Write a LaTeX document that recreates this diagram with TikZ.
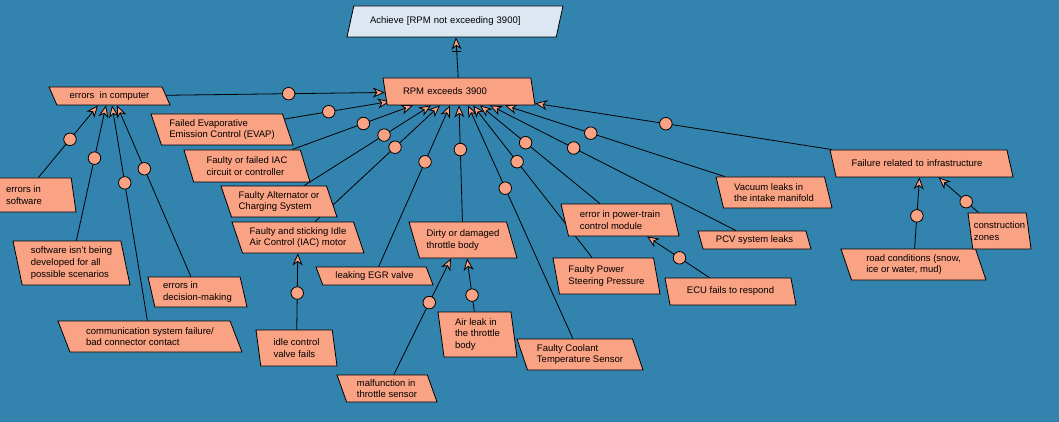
\documentclass[tikz,border=0pt]{standalone}
\usepackage{fontspec}
\setmainfont{Liberation Sans}
\usetikzlibrary{shapes.geometric, arrows.meta, backgrounds}

\definecolor{seablue}{RGB}{50,131,173}
\definecolor{salmonfill}{RGB}{250,162,132}
\definecolor{goalfill}{RGB}{220,231,241}

\tikzset{
  cause/.style={trapezium, trapezium left angle=115, trapezium right angle=65,
    trapezium stretches body=true, draw=black, line width=0.8pt, fill=salmonfill,
    align=left, inner sep=1pt, font=\fontsize{9.5}{11.7}\selectfont},
  goal/.style={cause, trapezium left angle=58, trapezium right angle=122, fill=goalfill},
  orbub/.style={circle, draw=black, line width=0.8pt, fill=salmonfill, minimum size=12.5pt, inner sep=0pt},
  contrib/.style={line width=0.8pt, -{Stealth[length=12pt, width=10pt, inset=3.5pt, fill=salmonfill]}},
  andbar/.style={draw, line width=0.8pt, rectangle, minimum width=9pt, minimum height=0pt, inner sep=0pt}
}

\begin{document}
\begin{tikzpicture}[x=1pt, y=-1pt]
    \useasboundingbox (0,0) rectangle (1059,422);
    \clip (0,0) rectangle (1059,422);

    \node (achieve) at (455,21.5) [goal, text width=170pt, minimum width=216pt, minimum height=31pt] {Achieve [RPM not exceeding 3900]};
    \node (rpm) at (459,91.5) [cause, text width=112pt, minimum width=152pt, minimum height=27pt] {RPM exceeds 3900};

    \node (comp) at (109.5,96) [cause, trapezium left angle=126, trapezium right angle=54, minimum width=121pt, minimum height=18pt] {errors~ in computer};
    \node (soft) at (24,195) [cause, trapezium left angle=103, trapezium right angle=77, minimum width=104pt, minimum height=34pt] {errors in\\software};
    \node (devel) at (71.5,263) [cause, trapezium left angle=105, trapezium right angle=75, minimum width=117pt, minimum height=44pt] {software isn't being\\developed for all\\possible scenarios};
    \node (decis) at (197.5,292) [cause, trapezium left angle=107, trapezium right angle=73, minimum width=99pt, minimum height=30pt] {errors in\\decision-making};
    \node (comm) at (150,336.5) [cause, trapezium left angle=120, trapezium right angle=60, minimum width=184pt, minimum height=31pt] {communication system failure/\\bad connector contact};

    \node (evap) at (222,129.5) [cause, minimum width=142pt, minimum height=31pt] {Failed Evaporative\\Emission Control (EVAP)};
    \node (iac) at (247,166) [cause, minimum width=126pt, minimum height=32pt] {Faulty or failed IAC\\circuit or controller};
    \node (alt) at (279,201.5) [cause, minimum width=116pt, minimum height=31pt] {Faulty Alternator or\\Charging System};
    \node (iacm) at (298,237.5) [cause, minimum width=132pt, minimum height=31pt] {Faulty and sticking Idle\\Air Control (IAC) motor};
    \node (idle) at (296.5,348) [cause, trapezium left angle=103, trapezium right angle=77, minimum width=81pt, minimum height=36pt] {idle control\\valve fails};
    \node (egr) at (374.5,276) [cause, trapezium left angle=122, trapezium right angle=58, minimum width=117pt, minimum height=18pt] {leaking EGR valve};

    \node (dirty) at (463,240) [cause, minimum width=108pt, minimum height=36pt] {Dirty or damaged\\throttle body};
    \node (malf) at (387,388.5) [cause, minimum width=100pt, minimum height=27pt] {malfunction in\\throttle sensor};
    \node (airleak) at (477.5,334.5) [cause, trapezium left angle=100, trapezium right angle=80, minimum width=79pt, minimum height=45pt] {Air leak in\\the throttle\\body};
    \node (coolant) at (580,354.5) [cause, minimum width=126pt, minimum height=31pt] {Faulty Coolant\\Temperature Sensor};
    \node (steer) at (606.5,276) [cause, trapezium left angle=106, trapezium right angle=74, minimum width=107pt, minimum height=36pt] {Faulty Power\\Steering Pressure};
    \node (pcm) at (620,220) [cause, trapezium left angle=110, trapezium right angle=70, minimum width=118pt, minimum height=32pt] {error in power-train\\control module};
    \node (ecu) at (730.5,291.5) [cause, minimum width=131pt, minimum height=27pt] {ECU fails to respond};
    \node (pcv) at (754.5,240) [cause, minimum width=113pt, minimum height=18pt] {PCV system leaks};
    \node (vacuum) at (774,192.5) [cause, trapezium left angle=110, trapezium right angle=70, minimum width=116pt, minimum height=31pt] {Vacuum leaks in\\the intake manifold};

    \node (infra) at (921.5,163.5) [cause, trapezium left angle=124, trapezium right angle=56, text width=140pt, minimum width=183pt, minimum height=27pt] {Failure related to infrastructure};
    \node (road) at (913.5,264.5) [cause, minimum width=145pt, minimum height=31pt] {road conditions (snow,\\ice or water, mud)};
    \node (constr) at (999.5,231) [cause, trapezium left angle=103, trapezium right angle=77, minimum width=63pt, minimum height=36pt] {construction\\ zones};

    \begin{scope}[on background layer]
    \fill [seablue] (0,0) rectangle (1059,422);

    \draw [contrib] (rpm) -- node[pos=0.66, andbar] {} (achieve);

    \draw [contrib] (comp) -- node[pos=0.56, orbub] {} (rpm);
    \draw [contrib] (evap) -- node[pos=0.42, orbub] {} ([xshift=5pt, yshift=-10pt]rpm.west);
    \draw [contrib] (iac) -- node[pos=0.59, orbub] {} ([xshift=-46pt]rpm.south);
    \draw [contrib] (alt) -- node[pos=0.63, orbub] {} ([xshift=-28pt]rpm.south);
    \draw [contrib] (iacm) -- node[pos=0.64, orbub] {} ([xshift=-19pt]rpm.south);
    \draw [contrib] (egr) -- node[pos=0.65, orbub] {} ([xshift=-9pt]rpm.south);
    \draw [contrib] (dirty) -- node[pos=0.62, orbub] {} (rpm.south);
    \draw [contrib] (coolant) -- node[pos=0.645, orbub] {} ([xshift=9pt]rpm.south);
    \draw [contrib] (steer) -- node[pos=0.63, orbub] {} ([xshift=14pt]rpm.south);
    \draw [contrib] (pcm) -- node[pos=0.62, orbub] {} ([xshift=21pt]rpm.south);
    \draw [contrib] (pcv) -- node[pos=0.66, orbub] {} ([xshift=31pt]rpm.south);
    \draw [contrib] (vacuum) -- node[pos=0.61, orbub] {} ([xshift=46pt]rpm.south);
    \draw [contrib] (infra) -- node[pos=0.56, orbub] {} (rpm);

    \draw [contrib] (soft) -- node[pos=0.53, orbub] {} ([xshift=-11.5pt]comp.south);
    \draw [contrib] (devel) -- node[pos=0.61, orbub] {} ([xshift=-3.5pt]comp.south);
    \draw [contrib] (comm) -- node[pos=0.64, orbub] {} ([xshift=2.5pt]comp.south);
    \draw [contrib] (decis) -- node[pos=0.63, orbub] {} ([xshift=7.5pt]comp.south);

    \draw [contrib] (idle) -- node[pos=0.48, orbub] {} (iacm);
    \draw [contrib] (malf) -- node[pos=0.62, orbub] {} ([xshift=-12pt]dirty.south);
    \draw [contrib] (airleak) -- node[pos=0.31, orbub] {} ([xshift=4pt]dirty.south);
    \draw [contrib] (ecu) -- node[pos=0.48, orbub] {} ([xshift=27pt]pcm.south);
    \draw [contrib] (road) -- node[pos=0.46, orbub] {} ([xshift=-2pt]infra.south);
    \draw [contrib] (constr) -- node[pos=0.31, orbub] {} ([xshift=17pt]infra.south);
    \end{scope}
\end{tikzpicture}
\end{document}
